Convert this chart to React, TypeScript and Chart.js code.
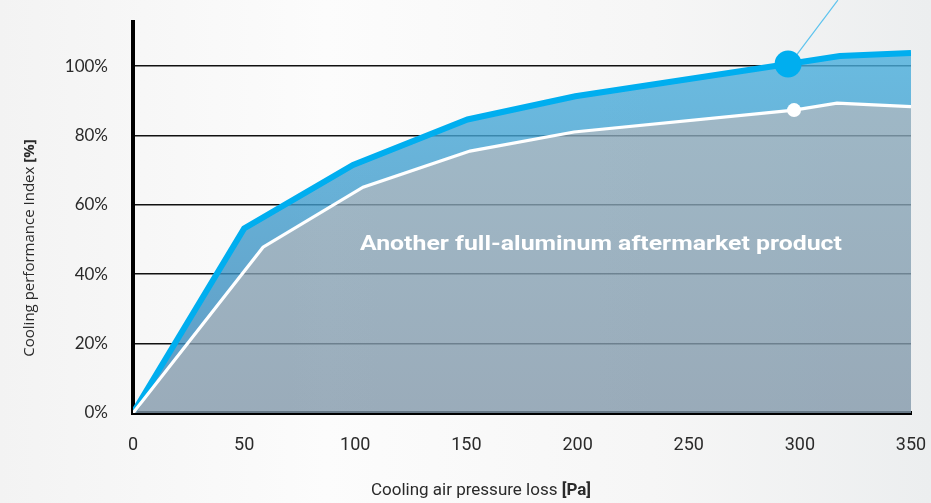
import React, { useEffect, useRef } from "react";
import { Chart, registerables } from "chart.js";

Chart.register(...registerables);

// ---- data ----
const xTickValues = [0, 50, 100, 150, 200, 250, 300, 350];
const yTickValues = [0, 20, 40, 60, 80, 100];
const bestX = [0, 50, 99, 150.5, 199, 294.7, 318, 350];
const bestY = [0, 53.2, 71.5, 84.6, 91.3, 100.6, 102.9, 103.8];
const otherX = [0, 58.5, 103.5, 151.6, 198.4, 297.4, 316.7, 350];
const otherY = [0, 47.8, 65.1, 75.5, 81, 87.3, 89.3, 88.3];
const highlightIndex = 5;
const leaderX = [295.5, 317.1];
const leaderY = [100.6, 119];
const xTitleParts = ["Cooling air pressure loss ", "[Pa]"];
const yTitleParts = ["Cooling performance Index ", "[%]"];
const annotationText = "Another full-aluminum aftermarket product";
const annotationAt = { x: 210.5, y: 48.4 };

const toPoints = (xs: number[], ys: number[]) => xs.map((x, i) => ({ x, y: ys[i] }));

const textPlugin = {
  id: "texts",
  afterDatasetsDraw(chart: any) {
    const ctx = chart.ctx as CanvasRenderingContext2D;
    const xs = chart.scales.x;
    const ys = chart.scales.y;
    ctx.save();
    ctx.fillStyle = "#ffffff";
    ctx.font = "bold 21px Roboto";
    ctx.textAlign = "center";
    ctx.textBaseline = "middle";
    const w = ctx.measureText(annotationText).width;
    const k = 482 / w;
    ctx.translate(xs.getPixelForValue(annotationAt.x), ys.getPixelForValue(annotationAt.y));
    ctx.scale(k, 1);
    ctx.fillText(annotationText, 0, 0);
    ctx.restore();
  },
  afterDraw(chart: any) {
    const ctx = chart.ctx as CanvasRenderingContext2D;
    ctx.save();
    ctx.fillStyle = "#2a2a2a";
    ctx.textBaseline = "middle";
    ctx.textAlign = "left";
    // x title
    const f1 = "17px Roboto";
    const f2 = "bold 17px Roboto";
    ctx.font = f1;
    const w1 = ctx.measureText(xTitleParts[0]).width;
    ctx.font = f2;
    const w2 = ctx.measureText(xTitleParts[1]).width;
    const sx = 481 - (w1 + w2) / 2;
    ctx.font = f1;
    ctx.fillText(xTitleParts[0], sx, 491);
    ctx.font = f2;
    ctx.fillText(xTitleParts[1], sx + w1, 491);
    // y title
    ctx.translate(30, 248);
    ctx.rotate(-Math.PI / 2);
    const g1 = "15px 'Open Sans'";
    const g2 = "bold 15px 'Open Sans'";
    ctx.font = g1;
    const v1 = ctx.measureText(yTitleParts[0]).width;
    ctx.font = g2;
    const v2 = ctx.measureText(yTitleParts[1]).width;
    const sy = -(v1 + v2) / 2;
    ctx.font = g1;
    ctx.fillText(yTitleParts[0], sy, 0);
    ctx.font = g2;
    ctx.fillText(yTitleParts[1], sy + v1, 0);
    ctx.restore();
  },
};

function gradient(chart: any, top: string, bottom: string, fallback: string) {
  const area = chart.chartArea;
  if (!area) return fallback;
  const g = chart.ctx.createLinearGradient(0, area.top, 0, area.bottom);
  g.addColorStop(0, top);
  g.addColorStop(1, bottom);
  return g;
}

export default function App() {
  const ref = useRef<HTMLCanvasElement | null>(null);

  useEffect(() => {
    if (!ref.current) return;
    const chart = new Chart(ref.current, {
      type: "line",
      data: {
        datasets: [
          {
            label: "best",
            data: toPoints(bestX, bestY),
            borderColor: "#00aeef",
            borderWidth: 6,
            fill: "+1",
            backgroundColor: (c: any) =>
              gradient(c.chart, "rgba(74,178,224,0.8)", "rgba(55,130,180,0.8)", "rgba(74,176,221,0.8)"),
            pointRadius: bestX.map((_, i) => (i === highlightIndex ? 13.5 : 0)),
            pointBackgroundColor: "#00aeef",
            pointBorderWidth: 0,
            tension: 0,
            order: 2,
          },
          {
            label: "other",
            data: toPoints(otherX, otherY),
            borderColor: "#ffffff",
            borderWidth: 3.2,
            fill: "origin",
            backgroundColor: (c: any) =>
              gradient(c.chart, "rgba(140,174,192,0.8)", "rgba(130,152,170,0.8)", "rgba(138,170,188,0.8)"),
            pointRadius: otherX.map((_, i) => (i === highlightIndex ? 7 : 0)),
            pointBackgroundColor: "#ffffff",
            pointBorderWidth: 0,
            tension: 0,
            order: 1,
          },
          {
            label: "leader",
            data: toPoints(leaderX, leaderY),
            borderColor: "#5cc3ee",
            borderWidth: 1.2,
            fill: false,
            pointRadius: 0,
            clip: false as any,
            order: 3,
          },
        ],
      },
      options: {
        responsive: false,
        animation: false,
        events: [],
        layout: { padding: { top: 22, right: 20, left: 0, bottom: 0 } },
        plugins: { legend: { display: false }, tooltip: { enabled: false } },
        scales: {
          x: {
            type: "linear",
            min: 0,
            max: 350,
            afterFit: (s: any) => {
              s.height = 90;
              s.paddingLeft = 0;
              s.paddingRight = 0;
            },
            afterBuildTicks: (s: any) => {
              s.ticks = xTickValues.map((v) => ({ value: v }));
            },
            grid: { display: false, drawTicks: false },
            border: { display: true, color: "#000000", width: 4 },
            ticks: {
              padding: 22,
              color: "#2a2a2a",
              font: { family: "Roboto", size: 18 },
              maxRotation: 0,
            },
          },
          y: {
            type: "linear",
            min: 0,
            max: 112.7,
            afterFit: (s: any) => {
              s.width = 133;
              s.paddingTop = 0;
              s.paddingBottom = 0;
            },
            afterBuildTicks: (s: any) => {
              s.ticks = yTickValues.map((v) => ({ value: v }));
            },
            grid: { color: "#111111", lineWidth: 1.5, drawTicks: false },
            border: { display: true, color: "#000000", width: 4 },
            ticks: {
              padding: 25,
              color: "#2a2a2a",
              font: { family: "Lato", size: 17 },
              callback: (v: any) => `${v}%`,
            },
          },
        },
      },
      plugins: [textPlugin],
    });
    return () => chart.destroy();
  }, []);

  return (
    <div
      style={{
        position: "absolute",
        left: 0,
        top: 0,
        width: 931,
        height: 503,
        background:
          "linear-gradient(90deg, #f3f3f3 0%, #fcfcfc 35%, #f6f6f6 70%, #eceeef 100%)",
      }}
    >
      <canvas ref={ref} width={931} height={503} style={{ display: "block" }} />
    </div>
  );
}
